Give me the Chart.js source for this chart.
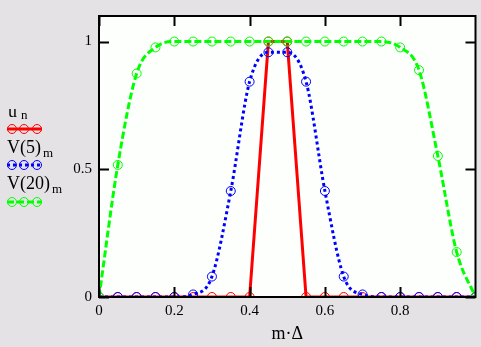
<!DOCTYPE html>
<html>
<head>
<meta charset="utf-8">
<script src="https://cdn.jsdelivr.net/npm/chart.js@4"></script>
<style>
  html, body { margin: 0; padding: 0; background: #e4e2e4; }
  #wrap { width: 481px; height: 347px; }
</style>
</head>
<body>
<div id="wrap"><canvas id="chart" width="481" height="347"></canvas></div>
<script>
"use strict";

// ─── Data ──────────────────────────────────────────────────────────────────

const mDelta = [0, 0.05, 0.1, 0.15, 0.2, 0.25, 0.3, 0.35, 0.4, 0.45, 0.5,
                0.55, 0.6, 0.65, 0.7, 0.75, 0.8, 0.85, 0.9, 0.95, 1.0];

const uVals   = [0, 0, 0, 0, 0, 0, 0, 0, 0, 1, 1,
                 0, 0, 0, 0, 0, 0, 0, 0, 0, 0];

const v5Vals  = [0, 0, 0, 0, 0, 0.01, 0.08, 0.415, 0.843, 0.958, 0.958,
                 0.843, 0.415, 0.08, 0.01, 0, 0, 0, 0, 0, 0];

const v20Vals = [0, 0.517, 0.875, 0.977, 1, 1, 1, 1, 1, 1, 1,
                 1, 1, 1, 1, 1, 0.977, 0.888, 0.552, 0.176, 0];

const xTicks = [0, 0.2, 0.4, 0.6, 0.8];
const yTicks = [0, 0.5, 1];

const RED = "#ff0000";
const BLUE = "#0000ff";
const GREEN = "#00ff00";
const SERIF = "'Liberation Serif', 'DejaVu Serif', serif";

function toPoints(ys) {
  return mDelta.map((x, i) => ({ x: x, y: ys[i] }));
}

// ─── Plugin: plot background, frame, inward ticks, legend, x title ────────

const mathcadFrame = {
  id: "mathcadFrame",
  beforeDatasetsDraw(chart) {
    const { ctx, chartArea: a } = chart;
    ctx.save();
    ctx.fillStyle = "#fcfffc";
    ctx.fillRect(a.left, a.top, a.right - a.left, a.bottom - a.top);
    ctx.restore();
  },
  afterDraw(chart) {
    const { ctx, chartArea: a } = chart;
    const xs = chart.scales.x;
    const ys = chart.scales.y;
    const TL = 10;

    ctx.save();
    ctx.strokeStyle = "#000";
    ctx.lineWidth = 2;
    ctx.strokeRect(a.left, a.top, a.right - a.left, a.bottom - a.top);

    ctx.beginPath();
    xTicks.forEach((v) => {
      const px = Math.round(xs.getPixelForValue(v)) + 0.5;
      ctx.moveTo(px, a.bottom); ctx.lineTo(px, a.bottom - TL);
      ctx.moveTo(px, a.top);    ctx.lineTo(px, a.top + TL);
    });
    yTicks.forEach((v) => {
      const py = Math.round(ys.getPixelForValue(v)) + 0.5;
      ctx.moveTo(a.left, py);  ctx.lineTo(a.left + TL, py);
      ctx.moveTo(a.right, py); ctx.lineTo(a.right - TL, py);
    });
    ctx.stroke();

    // x axis title
    ctx.fillStyle = "#000";
    ctx.font = "18px " + SERIF;
    ctx.textAlign = "center";
    ctx.textBaseline = "alphabetic";
    ctx.fillText("m·Δ", (a.left + a.right) / 2, 339);

    // legend (left side, Mathcad style)
    ctx.textAlign = "left";
    ctx.save();
    ctx.beginPath();
    ctx.rect(0, 109, 95, 120);
    ctx.clip();
    ctx.font = "18px " + SERIF;
    ctx.fillText("u", 8, 117);
    ctx.font = "13px " + SERIF;
    ctx.fillText("n", 21, 119);
    ctx.restore();

    ctx.font = "18px " + SERIF;
    ctx.fillText("V(5)", 7, 153);
    ctx.fillText("V(20)", 7, 189);
    ctx.font = "13px " + SERIF;
    ctx.fillText("m", 43, 157);
    ctx.fillText("m", 52, 193);

    drawSample(ctx, 129, RED, [], 3);
    drawSample(ctx, 165, BLUE, [3, 3], 3);
    drawSample(ctx, 202, GREEN, [7, 3], 3);
    ctx.restore();
  },
};

function drawSample(ctx, y, color, dash, width) {
  ctx.save();
  ctx.strokeStyle = color;
  ctx.lineWidth = width;
  ctx.setLineDash(dash);
  ctx.beginPath();
  ctx.moveTo(7, y); ctx.lineTo(42, y);
  ctx.stroke();
  ctx.setLineDash([]);
  ctx.lineWidth = 1;
  [12, 24, 37].forEach((cx) => {
    ctx.beginPath();
    ctx.arc(cx, y, 4.5, 0, Math.PI * 2);
    ctx.stroke();
  });
  ctx.restore();
}

// ─── Chart ────────────────────────────────────────────────────────────────

function seriesStyle(color, dash, width, smooth, order) {
  return {
    borderColor: color,
    borderWidth: width,
    borderDash: dash,
    pointStyle: "circle",
    pointRadius: 4.5,
    pointBorderWidth: 1,
    pointBorderColor: color,
    pointBackgroundColor: "rgba(0,0,0,0)",
    cubicInterpolationMode: smooth ? "monotone" : "default",
    tension: 0,
    fill: false,
    order: order,
  };
}

new Chart(document.getElementById("chart").getContext("2d"), {
  type: "line",
  data: {
    datasets: [
      { label: "u", data: toPoints(uVals), ...seriesStyle(RED, [], 3, false, 2) },
      { label: "V(5)", data: toPoints(v5Vals), ...seriesStyle(BLUE, [3, 3], 3, true, 1) },
      { label: "V(20)", data: toPoints(v20Vals), ...seriesStyle(GREEN, [7, 3], 3, true, 0) },
    ],
  },
  options: {
    responsive: false,
    animation: false,
    devicePixelRatio: 1,
    layout: { padding: { top: 7, right: 4, left: 0, bottom: 0 } },
    plugins: { legend: { display: false }, tooltip: { enabled: false } },
    scales: {
      x: {
        type: "linear",
        min: 0,
        max: 1,
        afterFit: (s) => { s.height = 50; },
        afterBuildTicks: (s) => { s.ticks = xTicks.map((v) => ({ value: v })); },
        grid: { display: false, drawTicks: false },
        border: { display: false },
        ticks: {
          color: "#000",
          font: { family: SERIF, size: 15 },
          padding: 5,
          maxRotation: 0,
          callback: (v) => String(v),
        },
      },
      y: {
        type: "linear",
        min: 0,
        max: 1.1,
        afterFit: (s) => { s.width = 99; },
        afterBuildTicks: (s) => { s.ticks = yTicks.map((v) => ({ value: v })); },
        grid: { display: false, drawTicks: false },
        border: { display: false },
        ticks: {
          color: "#000",
          font: { family: SERIF, size: 15 },
          padding: 7,
          callback: (v) => String(v),
        },
      },
    },
  },
  plugins: [mathcadFrame],
});
</script>
</body>
</html>
